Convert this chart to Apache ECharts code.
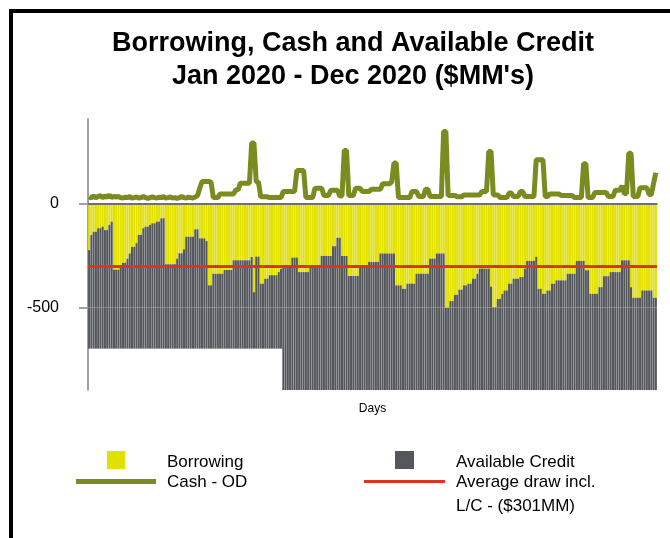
<!DOCTYPE html>
<html>
<head>
<meta charset="utf-8">
<script src="https://cdn.jsdelivr.net/npm/echarts@6/dist/echarts.min.js"></script>
<style>
html,body{margin:0;padding:0;background:#fff;}
#chart{width:670px;height:538px;}
</style>
</head>
<body>
<div id="chart"></div>
<script>
// ---- Data ($MM), one value per business day, Jan 2020 - Dec 2020 ----
const borrowing = [
-224,-151,-135,-135,-118,-118,-110,-127,-127,-102,
-86,-318,-318,-318,-305,-285,-285,-265,-240,-208,
-208,-190,-150,-150,-118,-110,-110,-102,-94,-94,
-86,-86,-70,-70,-292,-292,-292,-292,-292,-265,
-239,-239,-220,-159,-159,-159,-159,-123,-123,-167,
-167,-167,-180,-394,-394,-338,-338,-338,-338,-338,
-320,-320,-320,-320,-273,-273,-273,-273,-273,-273,
-273,-273,-257,-427,-255,-255,-386,-386,-362,-362,
-345,-345,-345,-345,-330,-315,-297,-297,-297,-297,
-260,-260,-260,-330,-330,-330,-330,-330,-297,-297,
-297,-297,-297,-252,-252,-252,-252,-252,-205,-205,
-164,-164,-252,-252,-252,-349,-349,-349,-349,-349,
-300,-300,-300,-300,-281,-281,-281,-281,-281,-240,
-240,-240,-240,-240,-240,-240,-394,-394,-394,-411,
-411,-386,-386,-386,-386,-338,-338,-338,-338,-338,
-338,-265,-265,-265,-240,-240,-240,-240,-503,-503,
-470,-470,-440,-440,-415,-415,-394,-394,-386,-386,
-362,-362,-338,-313,-313,-313,-313,-313,-400,-500,
-500,-460,-460,-435,-419,-419,-386,-386,-362,-362,
-362,-354,-354,-313,-276,-276,-276,-276,-256,-411,
-411,-435,-435,-419,-419,-386,-386,-370,-370,-370,
-370,-370,-338,-338,-338,-338,-276,-276,-276,-276,
-321,-321,-435,-435,-435,-435,-403,-403,-350,-350,
-350,-330,-330,-330,-330,-330,-273,-273,-273,-273,
-403,-454,-454,-454,-454,-419,-419,-419,-419,-419,
-454,-454
];
const availableCredit = [
-476,-549,-565,-565,-582,-582,-590,-573,-573,-598,
-614,-382,-382,-382,-395,-415,-415,-435,-460,-492,
-492,-510,-550,-550,-582,-590,-590,-598,-606,-606,
-614,-614,-630,-630,-408,-408,-408,-408,-408,-435,
-461,-461,-480,-541,-541,-541,-541,-577,-577,-533,
-533,-533,-520,-306,-306,-362,-362,-362,-362,-362,
-380,-380,-380,-380,-427,-427,-427,-427,-427,-427,
-427,-427,-443,-273,-445,-445,-314,-314,-338,-338,
-355,-355,-355,-355,-370,-385,-603,-603,-603,-603,
-640,-640,-640,-570,-570,-570,-570,-570,-603,-603,
-603,-603,-603,-648,-648,-648,-648,-648,-695,-695,
-736,-736,-648,-648,-648,-551,-551,-551,-551,-551,
-600,-600,-600,-600,-619,-619,-619,-619,-619,-660,
-660,-660,-660,-660,-660,-660,-506,-506,-506,-489,
-489,-514,-514,-514,-514,-562,-562,-562,-562,-562,
-562,-635,-635,-635,-660,-660,-660,-660,-397,-397,
-430,-430,-460,-460,-485,-485,-506,-506,-514,-514,
-538,-538,-562,-587,-587,-587,-587,-587,-500,-400,
-400,-440,-440,-465,-481,-481,-514,-514,-538,-538,
-538,-546,-546,-587,-624,-624,-624,-624,-644,-489,
-489,-465,-465,-481,-481,-514,-514,-530,-530,-530,
-530,-530,-562,-562,-562,-562,-624,-624,-624,-624,
-579,-579,-465,-465,-465,-465,-497,-497,-550,-550,
-550,-570,-570,-570,-570,-570,-627,-627,-627,-627,
-497,-446,-446,-446,-446,-481,-481,-481,-481,-481,
-446,-446
];
const cashOD = [
35,28,38,30,35,40,30,38,32,42,
30,36,33,35,30,28,32,30,35,28,
30,33,28,30,35,30,26,30,33,30,
28,32,30,35,28,30,33,28,30,26,
30,35,30,28,32,30,28,33,40,75,
108,108,108,108,105,30,30,30,48,48,
48,48,48,48,48,68,68,100,100,100,
100,100,294,294,106,106,34,34,34,34,
30,30,30,30,30,30,60,60,60,60,
60,60,161,161,161,161,30,30,30,30,
75,75,75,75,40,40,40,65,65,65,
65,38,38,258,258,40,40,40,75,75,
75,60,60,60,60,70,70,70,70,70,
97,97,97,97,105,197,197,30,30,30,
30,30,30,60,60,60,35,35,35,70,
70,35,35,35,35,35,35,350,350,40,
40,40,40,34,34,34,43,43,43,43,
43,43,43,43,60,60,60,253,253,43,
43,43,30,30,30,30,52,52,35,35,
35,60,60,35,35,35,35,35,213,213,
213,213,35,35,48,48,48,48,48,40,
40,40,40,40,40,30,30,30,30,194,
194,30,30,30,55,55,55,55,55,55,
35,35,35,65,65,65,87,50,50,245,
245,35,35,35,78,78,78,78,45,45,
100,150
];
const averageDraw = -301;
const yTickValues = [0, -500];
const days = borrowing.map((_, i) => 'Day ' + (i + 1));

const FONT = '"Liberation Sans", Arial, sans-serif';
const YELLOW = '#e2e000', GRAY = '#54575c', GREEN = '#7a8b1f', RED = '#e3301f';

const chart = echarts.init(document.getElementById('chart'), null, {renderer: 'canvas'});
chart.setOption({
  animation: false,
  backgroundColor: '#fff',
  title: {
    text: "Borrowing, Cash and Available Credit\nJan 2020 - Dec 2020 ($MM's)",
    left: 348, top: 22, textAlign: 'center',
    textStyle: {fontFamily: FONT, fontSize: 27, fontWeight: 'bold', color: '#000', lineHeight: 33}
  },
  grid: {left: 88, right: 13, top: 119, bottom: 148},
  xAxis: {
    type: 'category', data: days,
    name: 'Days', nameLocation: 'middle', nameGap: 13,
    nameTextStyle: {fontFamily: FONT, fontSize: 12, color: '#000'},
    axisLine: {lineStyle: {color: '#a0a0a0', width: 2}},
    axisTick: {show: false}, axisLabel: {show: false}, splitLine: {show: false}
  },
  yAxis: {
    type: 'value', min: -900, max: 410,
    axisLine: {show: true, lineStyle: {color: '#a0a0a0', width: 2}},
    axisTick: {show: true, length: 9, customValues: yTickValues, lineStyle: {color: '#a0a0a0', width: 2}},
    axisLabel: {customValues: yTickValues, margin: 29, padding: [8, 0, 0, 0], fontFamily: FONT, fontSize: 16, color: '#000'},
    splitLine: {show: false}
  },
  series: [
    {name: 'Borrowing', type: 'bar', stack: 'total', data: borrowing, barCategoryGap: '10%',
     itemStyle: {color: YELLOW}, z: 2},
    {name: 'Available Credit', type: 'bar', stack: 'total', data: availableCredit, barCategoryGap: '10%',
     itemStyle: {color: GRAY}, z: 2},
    {name: 'Cash - OD', type: 'line', data: cashOD, showSymbol: false, symbol: 'none',
     lineStyle: {color: GREEN, width: 5}, itemStyle: {color: GREEN}, z: 5,
     markLine: {
       silent: true, symbol: 'none', label: {show: false}, animation: false,
       data: [
         {yAxis: 0, lineStyle: {color: '#707070', width: 2, type: 'solid'}},
         {yAxis: -500, lineStyle: {color: 'rgba(170,170,170,0.55)', width: 1, type: 'solid'}},
         {yAxis: averageDraw, lineStyle: {color: RED, width: 3, type: 'solid'}}
       ]
     }}
  ],
  graphic: [
    {type: 'rect', shape: {x: 9, y: 9, width: 661, height: 4}, style: {fill: '#000'}},
    {type: 'rect', shape: {x: 9, y: 9, width: 4, height: 529}, style: {fill: '#000'}},
    {type: 'rect', shape: {x: 107, y: 451, width: 18, height: 18}, style: {fill: YELLOW}},
    {type: 'rect', shape: {x: 76, y: 479, width: 80, height: 5}, style: {fill: GREEN}},
    {type: 'rect', shape: {x: 395, y: 451, width: 19, height: 18}, style: {fill: GRAY}},
    {type: 'rect', shape: {x: 364, y: 480, width: 81, height: 3}, style: {fill: RED}},
    {type: 'text', x: 167, y: 462, style: {text: 'Borrowing', font: '17px ' + FONT, fill: '#000', verticalAlign: 'middle'}},
    {type: 'text', x: 167, y: 482.5, style: {text: 'Cash - OD', font: '17px ' + FONT, fill: '#000', verticalAlign: 'middle'}},
    {type: 'text', x: 456, y: 462, style: {text: 'Available Credit', font: '17px ' + FONT, fill: '#000', verticalAlign: 'middle'}},
    {type: 'text', x: 456, y: 482.5, style: {text: 'Average draw incl.', font: '17px ' + FONT, fill: '#000', verticalAlign: 'middle'}},
    {type: 'text', x: 456, y: 506.5, style: {text: 'L/C - ($301MM)', font: '17px ' + FONT, fill: '#000', verticalAlign: 'middle'}}
  ]
});
</script>
</body>
</html>
